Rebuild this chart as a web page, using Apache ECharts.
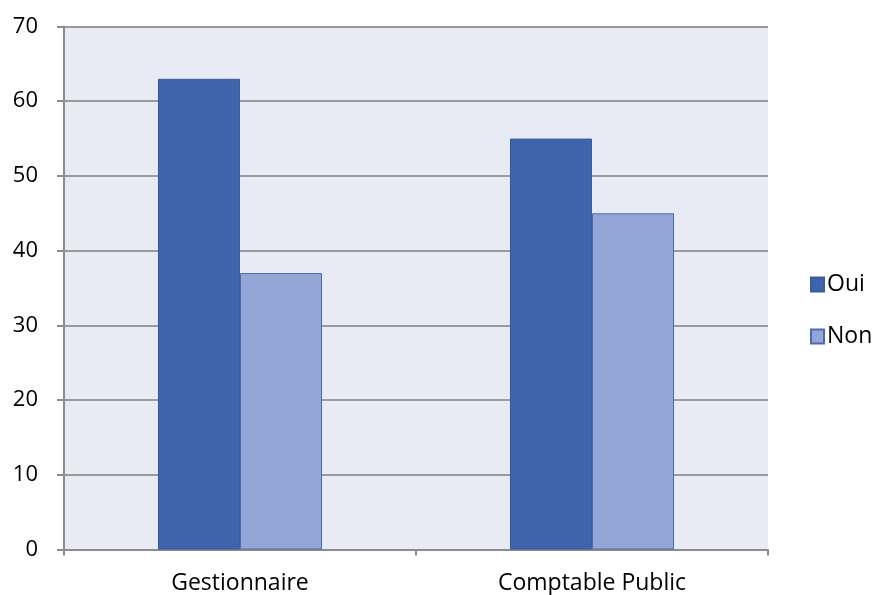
<!DOCTYPE html>
<html>
<head>
<meta charset="utf-8">
<script src="https://cdn.jsdelivr.net/npm/echarts@6/dist/echarts.min.js"></script>
<style>
  html, body { margin: 0; padding: 0; background: #ffffff; }
  #chart { width: 879px; height: 595px; }
</style>
</head>
<body>
<div id="chart"></div>
<script>
// Survey responses per role
const categories = ['Gestionnaire', 'Comptable Public'];
const seriesNames = ['Oui', 'Non'];
const ouiValues = [63, 55];
const nonValues = [37, 45];
const yTicks = [0, 10, 20, 30, 40, 50, 60, 70];

const FONT = '"Open Sans", Lato, sans-serif';

const chart = echarts.init(document.getElementById('chart'));
chart.setOption({
  animation: false,
  backgroundColor: '#ffffff',
  textStyle: { fontFamily: FONT },
  grid: {
    left: 64, top: 26.5, width: 704, height: 523,
    show: true, backgroundColor: '#e8eaf4', borderWidth: 0
  },
  legend: {
    orient: 'vertical',
    left: 810, top: 273,
    padding: 0,
    itemWidth: 13, itemHeight: 14, itemGap: 29,
    icon: 'rect',
    textStyle: { fontSize: 23, lineHeight: 20, color: '#000', fontFamily: FONT, padding: [0, 0, 0, -2] },
    data: seriesNames
  },
  xAxis: {
    type: 'category',
    data: categories,
    axisLine: { lineStyle: { color: '#8c8c8c', width: 2 } },
    axisTick: { show: true, length: 6, lineStyle: { color: '#8c8c8c', width: 2 } },
    axisLabel: { fontSize: 23, color: '#000', margin: 22, fontFamily: FONT },
    splitLine: { show: false }
  },
  yAxis: {
    type: 'value',
    min: yTicks[0], max: yTicks[yTicks.length - 1], interval: 10,
    axisLine: { show: true, lineStyle: { color: '#8c8c8c', width: 2 } },
    axisTick: { show: true, length: 7, lineStyle: { color: '#8c8c8c', width: 2 } },
    axisLabel: { fontSize: 22, color: '#000', margin: 26, fontFamily: FONT },
    splitLine: { show: true, lineStyle: { color: '#9a9a9a', width: 2 } }
  },
  series: [
    {
      name: seriesNames[0], type: 'bar', data: ouiValues,
      barGap: '0%', barCategoryGap: '53.4%',
      itemStyle: { color: '#3f64ad', borderColor: '#3a5b9c', borderWidth: 1 }
    },
    {
      name: seriesNames[1], type: 'bar', data: nonValues,
      itemStyle: { color: '#93a6d6', borderColor: '#4b6cae', borderWidth: 1 }
    }
  ]
});
</script>
</body>
</html>
